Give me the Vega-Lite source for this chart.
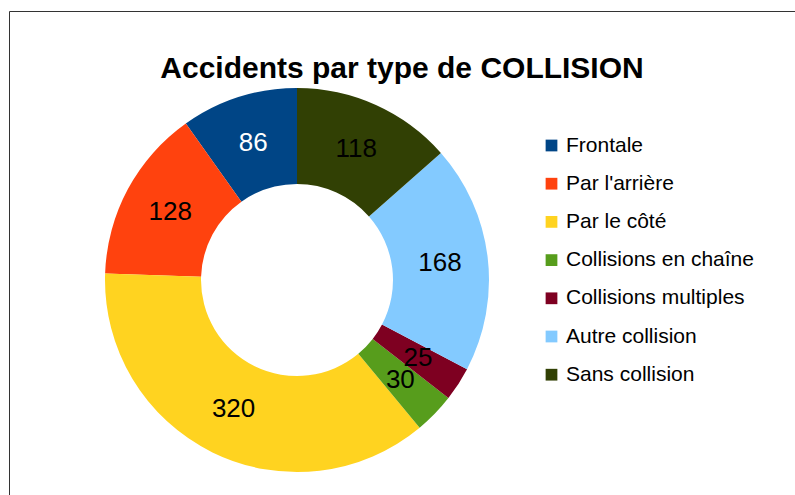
{
  "$schema": "https://vega.github.io/schema/vega-lite/v6.json",
  "autosize": "none",
  "width": 786,
  "height": 484,
  "padding": {"left": 9, "top": 11, "right": 0, "bottom": 0},
  "background": "white",
  "config": {
    "view": {"stroke": "#333333", "strokeWidth": 1, "strokeDash": [786, 1270, 484, 0]},
    "font": "Liberation Sans"
  },
  "title": {
    "text": "Accidents par type de COLLISION",
    "font": "Liberation Sans",
    "fontSize": 30,
    "fontWeight": "bold",
    "color": "#000000",
    "anchor": "middle",
    "frame": "group",
    "baseline": "alphabetic",
    "offset": -97
  },
  "data": {
    "values": [
      {"type": "Frontale", "rang": 1, "accidents": 86},
      {"type": "Par l'arrière", "rang": 2, "accidents": 128},
      {"type": "Par le côté", "rang": 3, "accidents": 320},
      {"type": "Collisions en chaîne", "rang": 4, "accidents": 30},
      {"type": "Collisions multiples", "rang": 5, "accidents": 25},
      {"type": "Autre collision", "rang": 6, "accidents": 168},
      {"type": "Sans collision", "rang": 7, "accidents": 118}
    ]
  },
  "encoding": {
    "theta": {"field": "accidents", "type": "quantitative", "stack": true},
    "order": {"field": "rang", "type": "quantitative", "sort": "descending"},
    "x": {"value": 288},
    "y": {"value": 269}
  },
  "layer": [
    {
      "mark": {"type": "arc", "innerRadius": 96, "outerRadius": 192},
      "encoding": {
        "color": {
          "field": "type",
          "type": "nominal",
          "sort": null,
          "scale": {
            "domain": ["Frontale", "Par l'arrière", "Par le côté", "Collisions en chaîne", "Collisions multiples", "Autre collision", "Sans collision"],
            "range": ["#004586", "#ff420e", "#ffd320", "#579d1c", "#7e0021", "#83caff", "#314004"]
          },
          "legend": {
            "title": null,
            "orient": "none",
            "legendX": 532,
            "legendY": 124,
            "padding": 0,
            "symbolType": "square",
            "symbolSize": 138,
            "symbolStrokeWidth": 0,
            "labelFontSize": 21,
            "labelFont": "Liberation Sans",
            "labelColor": "#000000",
            "labelOffset": 4,
            "rowPadding": 16.2,
            "labelLimit": 300
          }
        }
      }
    },
    {
      "mark": {"type": "text", "radius": 144, "fontSize": 26, "font": "Liberation Sans", "align": "center", "baseline": "middle"},
      "encoding": {
        "text": {"field": "accidents", "type": "quantitative"},
        "color": {
          "condition": {"test": "datum.type === 'Frontale'", "value": "#ffffff"},
          "value": "#000000"
        }
      }
    }
  ]
}
